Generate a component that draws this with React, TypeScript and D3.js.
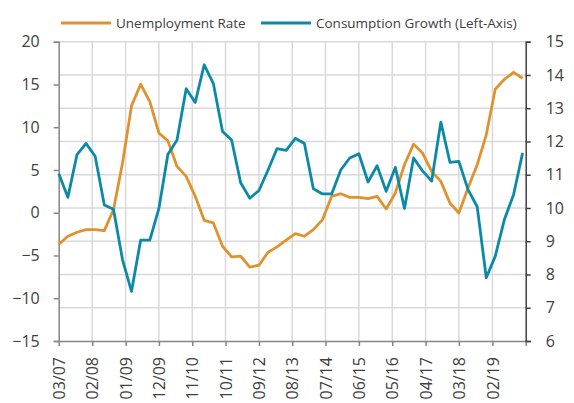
import React, { useEffect, useRef } from 'react';
import * as d3 from 'd3';

// quarterly observations, first one March 2007
const startMonth = '03/07';
const consumption = [
  4.6, 1.8, 6.8, 8.1, 6.6, 0.9, 0.4, -5.5, -9.2, -3.2,
  -3.2, 0.5, 6.8, 8.5, 14.5, 12.9, 17.3, 15.1, 9.5, 8.5,
  3.5, 1.7, 2.6, 5.0, 7.5, 7.3, 8.7, 8.1, 2.8, 2.2,
  2.2, 5.0, 6.4, 6.9, 3.6, 5.5, 2.5, 5.3, 0.5, 6.4,
  4.9, 3.7, 10.6, 5.9, 6.0, 2.7, 0.7, -7.6, -5.1, -0.8,
  2.1, 7.0,
];
const unemployment = [
  8.9, 9.15, 9.27, 9.35, 9.35, 9.32, 9.95, 11.35, 13.07, 13.72,
  13.2, 12.25, 12.02, 11.25, 10.95, 10.35, 9.63, 9.55, 8.85, 8.53,
  8.55, 8.22, 8.28, 8.67, 8.83, 9.03, 9.23, 9.15, 9.35, 9.65,
  10.35, 10.43, 10.32, 10.32, 10.28, 10.35, 9.97, 10.45, 11.3, 11.92,
  11.65, 11.1, 10.8, 10.15, 9.85, 10.6, 11.3, 12.2, 13.57, 13.87,
  14.08, 13.9,
];
const xTickLabels = [
  '03/07', '02/08', '01/09', '12/09', '11/10', '10/11', '09/12',
  '08/13', '07/14', '06/15', '05/16', '04/17', '03/18', '02/19', '01/20',
];
const leftTicks = [20, 15, 10, 5, 0, -5, -10, -15];
const rightTicks = [15, 14, 13, 12, 11, 10, 9, 8, 7, 6];

const seriesNames = ['Unemployment Rate', 'Consumption Growth (Left-Axis)'];
const ORANGE = '#e0922f';
const BLUE = '#0b8aa8';
const FONT = "'Open Sans', sans-serif";

const Chart: React.FC = () => {
  const svgRef = useRef<SVGSVGElement>(null);

  useEffect(() => {
    if (!svgRef.current) return;
    const svg = d3.select(svgRef.current);
    svg.selectAll('*').remove();

    const left = 58.7, right = 525.7, top = 41.7, bottom = 341;
    const parse = d3.timeParse('%m/%y');
    const t0 = parse(startMonth)!;
    const tickDates = xTickLabels.map(s => parse(s)!);

    const x = d3.scaleTime()
      .domain([t0, tickDates[tickDates.length - 1]])
      .range([left, right]);
    const yL = d3.scaleLinear().domain([-15, 20]).range([bottom, top]);
    const yR = d3.scaleLinear().domain([6, 15]).range([bottom, top]);

    const dates = consumption.map((_, i) => d3.timeMonth.offset(t0, 3 * i));

    // grid
    const grid = svg.append('g').attr('stroke', '#d9d9d9').attr('stroke-width', 1.5);
    grid.selectAll('.vg')
      .data(tickDates.slice(1, -1))
      .enter()
      .append('line')
      .attr('x1', d => x(d)).attr('x2', d => x(d))
      .attr('y1', top).attr('y2', bottom);
    grid.selectAll('.hg')
      .data(rightTicks.slice(0, -1))
      .enter()
      .append('line')
      .attr('x1', left).attr('x2', right)
      .attr('y1', d => yR(d)).attr('y2', d => yR(d));

    // axes
    const axisL = svg.append('g')
      .attr('transform', `translate(${left},0)`)
      .call(d3.axisLeft(yL).tickValues(leftTicks).tickSize(5).tickPadding(14));
    axisL.select('.domain').attr('stroke', '#868686').attr('stroke-width', 1.5);
    axisL.selectAll('.tick line').attr('stroke', '#868686').attr('stroke-width', 1.5);

    const axisB = svg.append('g')
      .attr('transform', `translate(0,${bottom})`)
      .call(d3.axisBottom(x).tickValues(tickDates)
        .tickFormat((_, i) => (i < xTickLabels.length - 1 ? xTickLabels[i] : ''))
        .tickSize(5).tickSizeOuter(0));
    axisB.select('.domain').attr('stroke', '#868686').attr('stroke-width', 1.5);
    axisB.selectAll('.tick line').attr('stroke', '#868686').attr('stroke-width', 1.5);
    axisB.selectAll('.tick text')
      .attr('transform', 'rotate(-90)')
      .attr('x', -16)
      .attr('y', 0)
      .attr('dy', '0.35em')
      .style('text-anchor', 'end');

    const axisR = svg.append('g')
      .attr('transform', `translate(${right},0)`)
      .call(d3.axisRight(yR).tickValues(rightTicks).tickSize(5).tickPadding(15));
    axisR.select('.domain').attr('stroke', '#404040').attr('stroke-width', 1.5);
    axisR.selectAll('.tick line').attr('stroke', '#404040').attr('stroke-width', 1.5);

    svg.selectAll('.tick text')
      .attr('fill', '#404040')
      .style('font-family', FONT)
      .style('font-size', '16px');

    // lines
    const lineL = d3.line<number>().x((_, i) => x(dates[i])).y(d => yL(d));
    const lineR = d3.line<number>().x((_, i) => x(dates[i])).y(d => yR(d));

    svg.append('path')
      .datum(unemployment)
      .attr('fill', 'none')
      .attr('stroke', ORANGE)
      .attr('stroke-width', 2.8)
      .attr('stroke-linejoin', 'round')
      .attr('d', lineR);

    svg.append('path')
      .datum(consumption)
      .attr('fill', 'none')
      .attr('stroke', BLUE)
      .attr('stroke-width', 2.8)
      .attr('stroke-linejoin', 'round')
      .attr('d', lineL);

    // legend
    const legend = svg.append('g');
    const items = [
      { name: seriesNames[0], color: ORANGE, x0: 61 },
      { name: seriesNames[1], color: BLUE, x0: 261 },
    ];
    items.forEach(it => {
      legend.append('line')
        .attr('x1', it.x0).attr('x2', it.x0 + 50)
        .attr('y1', 23).attr('y2', 23)
        .attr('stroke', it.color).attr('stroke-width', 3);
      legend.append('text')
        .attr('x', it.x0 + 55).attr('y', 23)
        .attr('dy', '0.35em')
        .attr('fill', '#404040')
        .style('font-family', FONT)
        .style('font-size', '13.5px')
        .text(it.name);
    });
  }, []);

  return <svg ref={svgRef} width={574} height={403} viewBox="0 0 574 403" style={{ display: 'block' }}></svg>;
};

export default function App() {
  return (
    <div style={{ position: 'fixed', left: 0, top: 0, background: '#fff' }}>
      <Chart />
    </div>
  );
}
